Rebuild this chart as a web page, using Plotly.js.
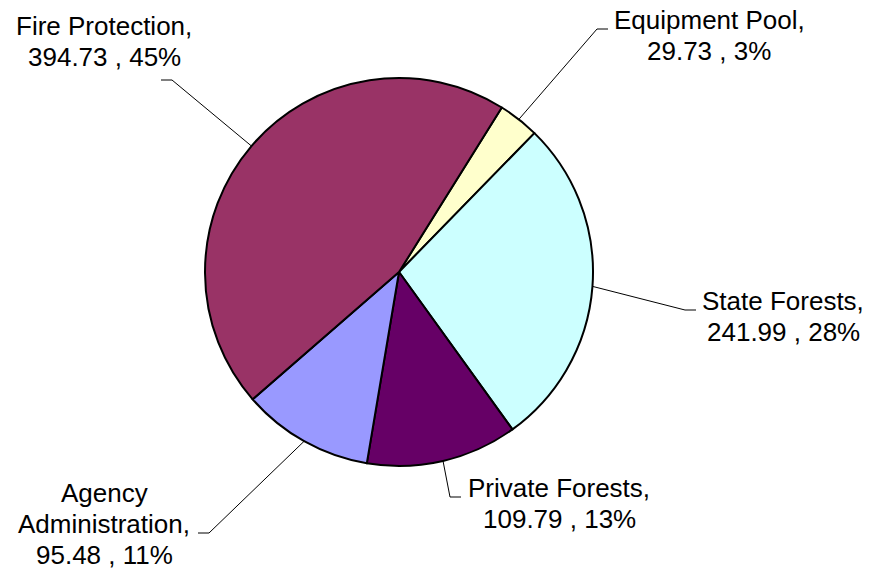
<!DOCTYPE html>
<html><head><meta charset="utf-8">
<script src="https://cdn.plot.ly/plotly-3.0.1.min.js"></script>
<style>html,body{margin:0;padding:0;background:#fff}#chart{width:878px;height:569px}</style>
</head><body><div id="chart"></div>
<script>
// ---- data ----
const categories = ["Equipment Pool", "State Forests", "Private Forests", "Agency Administration", "Fire Protection"];
const values = [29.73, 241.99, 109.79, 95.48, 394.73];
const colors = ["#FFFFCC", "#CCFFFF", "#660066", "#9999FF", "#993366"];
const nameLines = [["Equipment Pool,"], ["State Forests,"], ["Private Forests,"], ["Agency", "Administration,"], ["Fire Protection,"]];

// ---- layout constants (pixels) ----
const W = 878, H = 569;
const cx = 399, cy = 272, R = 194;
const rotation = 32;
const fontSize = 26, lineGap = 31.3;
// elbow of leader line, direction of short horizontal tick, first text line centre
const labelPlace = [
  {elbow: [597, 29], dir: 1, text: [709, 19.5]},
  {elbow: [685, 310], dir: 1, text: [783, 301]},
  {elbow: [450, 497], dir: 1, text: [559, 487.5]},
  {elbow: [209, 533], dir: -1, text: [104, 492.5]},
  {elbow: [172, 80], dir: -1, text: [104, 25.7]}
];

const px = x => x / W;
const py = y => 1 - y / H;
const total = values.reduce((a, b) => a + b, 0);

const shapes = [];
const annotations = [];
let acc = 0;
values.forEach((v, i) => {
  const mid = rotation + (acc + v / 2) / total * 360;
  acc += v;
  const t = mid * Math.PI / 180;
  const sx = cx + R * Math.sin(t), sy = cy - R * Math.cos(t);
  const p = labelPlace[i];
  const ex = p.elbow[0], ey = p.elbow[1];
  const hx = ex + p.dir * 11;
  const lineStyle = {color: "#000", width: 1};
  shapes.push({type: "line", xref: "paper", yref: "paper", x0: px(sx), y0: py(sy), x1: px(ex), y1: py(ey), line: lineStyle});
  shapes.push({type: "line", xref: "paper", yref: "paper", x0: px(ex), y0: py(ey), x1: px(hx), y1: py(ey), line: lineStyle});
  const pct = Math.round(v / total * 100);
  const lines = nameLines[i].concat([v.toFixed(2) + " , " + pct + "%"]);
  lines.forEach((txt, j) => {
    annotations.push({
      text: txt, showarrow: false, xref: "paper", yref: "paper",
      x: px(p.text[0]), y: py(p.text[1] + j * lineGap),
      xanchor: "center", yanchor: "middle",
      font: {family: "Liberation Sans, Arial, sans-serif", size: fontSize, color: "#000"}
    });
  });
});

const trace = {
  type: "pie",
  labels: categories,
  values: values,
  sort: false,
  direction: "clockwise",
  rotation: rotation,
  textposition: "none",
  hoverinfo: "none",
  marker: {colors: colors, line: {color: "#000", width: 2}},
  domain: {x: [px(cx - R), px(cx + R)], y: [py(cy + R), py(cy - R)]}
};

Plotly.newPlot("chart", [trace], {
  width: W, height: H,
  margin: {l: 0, r: 0, t: 0, b: 0},
  showlegend: false,
  paper_bgcolor: "#fff",
  shapes: shapes,
  annotations: annotations
}, {staticPlot: true});
</script>
</body></html>
